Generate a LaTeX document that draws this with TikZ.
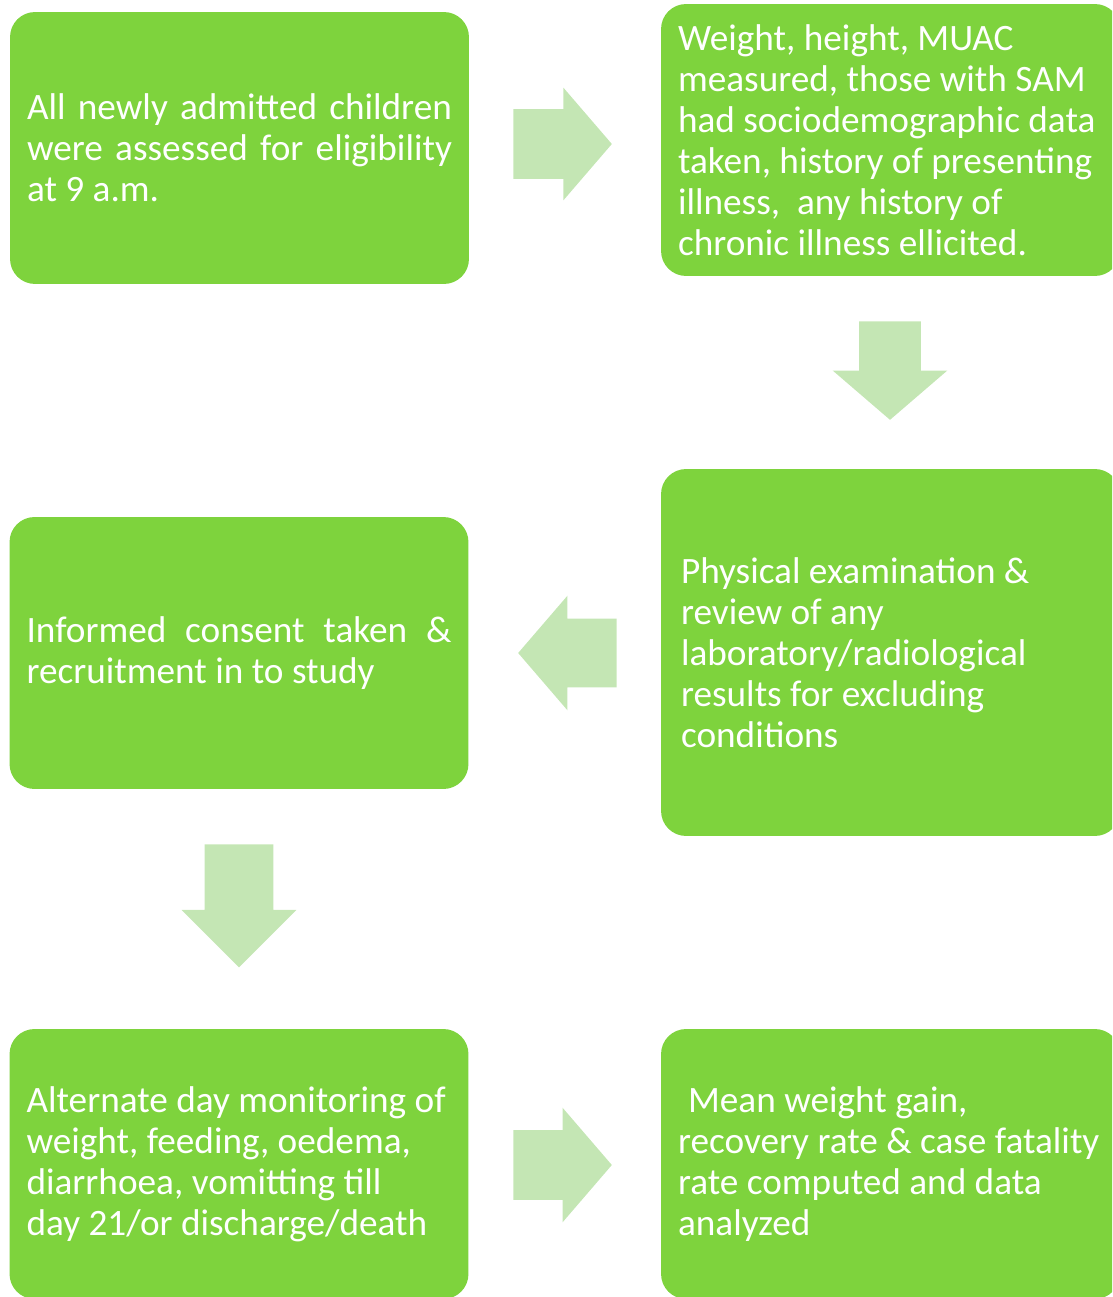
\documentclass[tikz,border=0pt]{standalone}
\usepackage{fontspec}
\setmainfont{Carlito}
\usepackage{xcolor}
\usetikzlibrary{shapes,positioning}

\definecolor{boxgreen}{HTML}{7ED33D}
\definecolor{arrowgreen}{HTML}{C4E6B4}

% one justified line, stretched to the full text width
\newcommand{\jline}[1]{\makebox[8.5cm][s]{#1}}

\begin{document}
\begin{tikzpicture}[
    x=0.02cm, y=-0.02cm,
    box/.style={rectangle, rounded corners=0.5cm, fill=boxgreen, draw=none,
                minimum width=9.18cm, minimum height=5.44cm, text width=8.5cm,
                align=left, text=white, font=\fontsize{21.2}{23.3}\selectfont,
                execute at begin node={\spaceskip=0pt\xspaceskip=0pt}},
    blockarrow/.style={single arrow, fill=arrowgreen, draw=none, inner xsep=0pt,
                inner ysep=0.68cm, minimum width=0pt, single arrow head extend=0.46cm,
                single arrow tip angle=98.6, minimum height=1.97cm, anchor=tail}
]

% Page
\useasboundingbox (0,0) rectangle (1112,1297);
\clip (0,0) rectangle (1112,1297);

% Steps
\node[box] (screen) at (239.5,148) {
    \jline{All newly admitted children}\\
    \jline{were assessed for eligibility}\\
    at 9 a.m.
};

\node[box] (measure) at (890.5,140) {
    Weight, height, MUAC\\
    measured, those with SAM\\
    \mbox{had sociodemographic data}\\
    \mbox{taken, history of presenting}\\
    illness,\ \ any history of\\
    chronic illness ellicited.
};

\node[box, minimum height=7.34cm, text width=8.38cm] (exam) at (890.5,652.5) {
    Physical examination \&\\
    review of any\\
    laboratory/radiological\\
    results for excluding\\
    conditions
};

\node[box] (consent) at (239,653) {
    \jline{Informed consent taken \&}\\
    recruitment in to study
};

\node[box, minimum height=5.4cm] (monitor) at (239,1164) {
    \mbox{Alternate day monitoring of}\\
    weight, feeding, oedema,\\
    diarrhoea, vomitting till\\
    \mbox{day 21/or discharge/death}
};

\node[box, minimum height=5.4cm] (analysis) at (890.5,1164) {
    \hspace*{0.2cm}Mean weight gain,\\
    \mbox{recovery rate \& case fatality}\\
    rate computed and data\\
    analyzed
};

% Block arrows between steps (placed by their tails)
\node[blockarrow, inner ysep=0.69cm, single arrow head extend=0.43cm] (arrA) at (513,144) {};
\node[blockarrow, rotate=-90, inner ysep=0.61cm, single arrow head extend=0.53cm] (arrB) at (890,321) {};
\node[blockarrow, rotate=180] (arrC) at (617,653) {};
\node[blockarrow, rotate=-90, single arrow tip angle=90, minimum height=2.46cm] (arrD) at (239,844) {};
\node[blockarrow, inner ysep=0.69cm, single arrow head extend=0.45cm] (arrE) at (513,1165) {};

\end{tikzpicture}
\end{document}
